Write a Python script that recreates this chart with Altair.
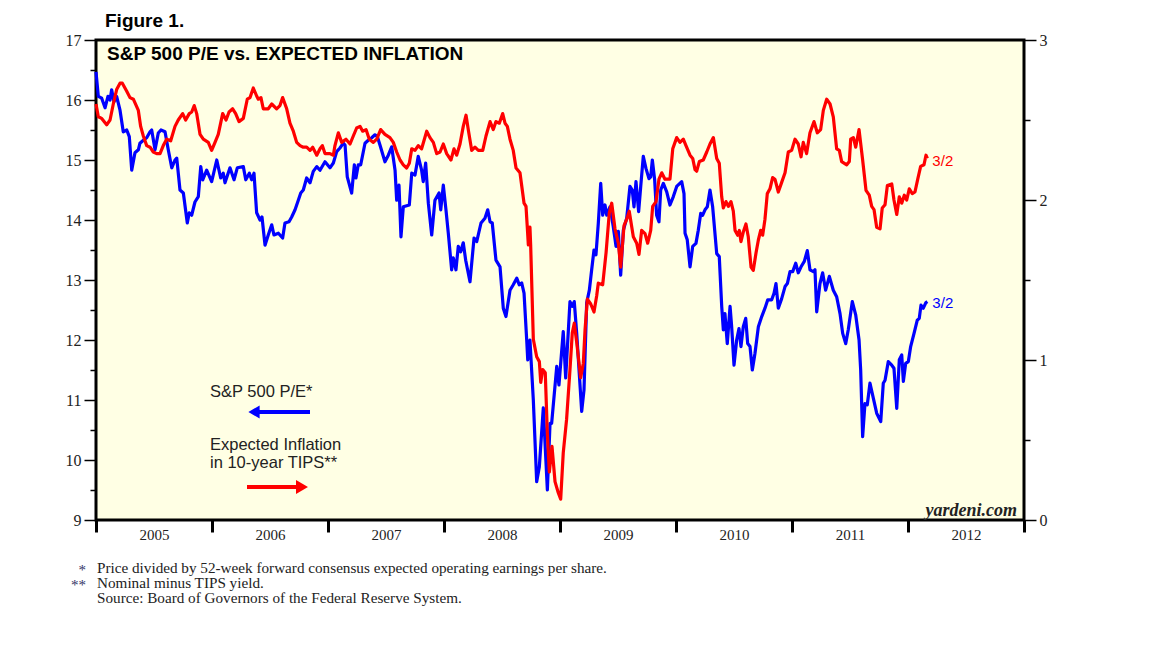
import altair as alt
import pandas as pd

# ---------------- data ----------------
# S&P 500 forward P/E (left axis), time in decimal years
pe_t = [
    2005.000, 2005.020, 2005.049, 2005.078, 2005.103, 2005.121, 2005.135, 2005.155, 2005.178, 2005.207,
    2005.235, 2005.265, 2005.287, 2005.308, 2005.336, 2005.365, 2005.379, 2005.408, 2005.437, 2005.466,
    2005.480, 2005.509, 2005.537, 2005.560, 2005.595, 2005.623, 2005.653, 2005.681, 2005.696, 2005.724,
    2005.753, 2005.787, 2005.804, 2005.825, 2005.853, 2005.882, 2005.903, 2005.920, 2005.954, 2005.997,
    2006.041, 2006.075, 2006.097, 2006.112, 2006.155, 2006.190, 2006.218, 2006.270, 2006.291, 2006.322,
    2006.342, 2006.362, 2006.385, 2006.414, 2006.431, 2006.457, 2006.485, 2006.515, 2006.534, 2006.572,
    2006.609, 2006.629, 2006.664, 2006.687, 2006.716, 2006.744, 2006.765, 2006.787, 2006.816, 2006.845,
    2006.873, 2006.903, 2006.931, 2006.974,
    2007.017, 2007.046, 2007.075, 2007.103, 2007.132, 2007.147, 2007.166, 2007.204, 2007.227, 2007.241,
    2007.261, 2007.282, 2007.319, 2007.347, 2007.377, 2007.405, 2007.425, 2007.448, 2007.491, 2007.520,
    2007.549, 2007.578, 2007.592, 2007.612, 2007.629, 2007.649, 2007.701, 2007.722, 2007.750, 2007.778,
    2007.807, 2007.821, 2007.842, 2007.865, 2007.894, 2007.922, 2007.957, 2007.972, 2007.994,
    2008.017, 2008.037, 2008.066, 2008.080, 2008.103, 2008.123, 2008.144, 2008.166, 2008.187, 2008.224,
    2008.259, 2008.282, 2008.319, 2008.353, 2008.377, 2008.397, 2008.416, 2008.448, 2008.483, 2008.511,
    2008.534, 2008.569, 2008.597, 2008.627, 2008.649, 2008.670, 2008.690, 2008.713, 2008.722, 2008.741,
    2008.770, 2008.799, 2008.822, 2008.856, 2008.891, 2008.914, 2008.928, 2008.972, 2008.991,
    2009.028, 2009.049, 2009.086, 2009.106, 2009.123, 2009.144, 2009.187, 2009.207, 2009.230, 2009.253,
    2009.273, 2009.293, 2009.310, 2009.330, 2009.351, 2009.368, 2009.388, 2009.403, 2009.431, 2009.459,
    2009.483, 2009.503, 2009.523, 2009.546, 2009.575, 2009.603, 2009.623, 2009.638, 2009.655, 2009.678,
    2009.696, 2009.718, 2009.741, 2009.767, 2009.782, 2009.796, 2009.816, 2009.833, 2009.853, 2009.868,
    2009.891, 2009.920, 2009.948, 2009.977,
    2010.006, 2010.049, 2010.069, 2010.078, 2010.097, 2010.121, 2010.144, 2010.172, 2010.192, 2010.213,
    2010.230, 2010.250, 2010.270, 2010.293, 2010.316, 2010.351, 2010.373, 2010.394, 2010.408, 2010.422,
    2010.442, 2010.466, 2010.480, 2010.500, 2010.523, 2010.543, 2010.560, 2010.580, 2010.601, 2010.618,
    2010.638, 2010.658, 2010.681, 2010.710, 2010.739, 2010.767, 2010.791, 2010.825, 2010.845, 2010.862,
    2010.882, 2010.911, 2010.940, 2010.960, 2010.983,
    2011.006, 2011.032, 2011.054, 2011.078, 2011.106, 2011.132, 2011.155, 2011.184, 2011.198, 2011.213,
    2011.241, 2011.264, 2011.290, 2011.322, 2011.356, 2011.385, 2011.414, 2011.437, 2011.463, 2011.485,
    2011.520, 2011.549, 2011.578, 2011.592, 2011.609, 2011.629, 2011.649, 2011.672, 2011.701, 2011.730,
    2011.765, 2011.787, 2011.802, 2011.830, 2011.860, 2011.879, 2011.903, 2011.925, 2011.946, 2011.960,
    2011.980,
    2012.003, 2012.023, 2012.052, 2012.080, 2012.097, 2012.112, 2012.132, 2012.153, 2012.167,
]
pe_v = [
    16.47, 16.06, 16.03, 15.87, 16.06, 16.00, 16.17, 15.97, 16.06, 15.83,
    15.47, 15.50, 15.39, 14.83, 15.12, 15.17, 15.28, 15.33, 15.37, 15.47,
    15.50, 15.17, 15.45, 15.50, 15.47, 15.17, 14.87, 15.00, 15.03, 14.50,
    14.45, 13.95, 14.12, 14.08, 14.30, 14.39, 14.89, 14.67, 14.83, 14.64,
    15.00, 14.70, 14.78, 14.62, 14.87, 14.67, 14.87, 14.89, 14.67, 14.78,
    14.67, 14.78, 14.12, 14.00, 14.05, 13.58, 13.75, 13.92, 13.75, 13.78,
    13.70, 13.95, 13.97, 14.05, 14.17, 14.33, 14.45, 14.50, 14.70, 14.62,
    14.81, 14.89, 14.83, 14.97,
    14.87, 14.95, 15.14, 15.20, 15.28, 15.25, 14.72, 14.45, 14.92, 14.70,
    14.92, 14.92, 15.28, 15.33, 15.37, 15.42, 15.39, 15.25, 14.97, 15.08,
    15.22, 14.83, 14.33, 14.58, 13.72, 14.22, 14.25, 14.78, 14.75, 15.06,
    14.83, 14.64, 14.95, 14.28, 13.75, 14.33, 14.45, 14.17, 14.58,
    14.17, 13.78, 13.17, 13.37, 13.17, 13.56, 13.47, 13.62, 13.33, 12.97,
    13.70, 13.64, 13.95, 14.03, 14.17, 13.97, 13.95, 13.33, 13.22, 12.53,
    12.39, 12.83, 12.92, 13.03, 12.92, 12.95, 12.78, 12.00, 11.67, 12.00,
    11.00, 9.64, 9.89, 10.87, 9.50, 10.61, 10.61, 11.56, 11.25,
    12.14, 11.37, 12.64, 12.56, 12.64, 12.11, 10.81, 11.17, 12.62, 12.83,
    13.17, 13.50, 13.42, 13.94, 14.61, 14.08, 14.25, 14.08, 14.22, 13.89,
    13.56, 13.81, 13.08, 13.83, 14.03, 14.56, 14.50, 14.22, 14.64, 14.14,
    14.56, 15.06, 14.86, 14.69, 14.72, 15.00, 14.67, 14.08, 13.97, 14.50,
    14.61, 14.47, 14.25, 14.39,
    14.56, 14.64, 14.44, 13.78, 13.67, 13.22, 13.56, 13.61, 13.83, 14.11,
    14.08, 14.17, 14.22, 14.50, 14.22, 13.44, 13.39, 12.56, 12.17, 12.44,
    11.94, 12.56, 12.22, 11.58, 12.00, 12.19, 11.89, 12.22, 12.36, 11.94,
    11.89, 11.50, 11.78, 12.22, 12.39, 12.53, 12.67, 12.67, 12.78, 12.94,
    12.53, 12.69, 12.89, 12.94, 13.14,
    13.14, 13.28, 13.12, 13.22, 13.31, 13.49, 13.17, 13.14, 13.17, 12.47,
    12.94, 13.12, 12.83, 13.06, 12.83, 12.72, 12.44, 12.11, 11.94, 12.17,
    12.64, 12.42, 12.00, 11.50, 10.39, 10.94, 10.92, 11.28, 11.03, 10.78,
    10.64, 11.28, 11.33, 11.64, 11.58, 11.53, 10.86, 11.67, 11.75, 11.31,
    11.61,
    11.64, 11.89, 12.11, 12.33, 12.36, 12.58, 12.53, 12.62, 12.64,
]

# Expected inflation in 10-year TIPS (right axis)
inf_t = [
    2005.000, 2005.020, 2005.049, 2005.092, 2005.121, 2005.149, 2005.178, 2005.207, 2005.227, 2005.265,
    2005.293, 2005.322, 2005.365, 2005.385, 2005.408, 2005.437, 2005.466, 2005.494, 2005.523, 2005.552,
    2005.580, 2005.609, 2005.644, 2005.681, 2005.709, 2005.747, 2005.773, 2005.804, 2005.825, 2005.847,
    2005.868, 2005.897, 2005.925, 2005.968, 2005.997,
    2006.026, 2006.054, 2006.092, 2006.121, 2006.147, 2006.178, 2006.204, 2006.233, 2006.270, 2006.304,
    2006.328, 2006.356, 2006.385, 2006.399, 2006.422, 2006.442, 2006.485, 2006.515, 2006.557, 2006.586,
    2006.609, 2006.644, 2006.672, 2006.701, 2006.730, 2006.759, 2006.787, 2006.816, 2006.845, 2006.868,
    2006.903, 2006.931, 2006.951, 2006.974,
    2007.017, 2007.046, 2007.060, 2007.089, 2007.118, 2007.155, 2007.190, 2007.218, 2007.247, 2007.276,
    2007.299, 2007.328, 2007.356, 2007.391, 2007.420, 2007.454, 2007.491, 2007.534, 2007.563, 2007.592,
    2007.621, 2007.649, 2007.678, 2007.701, 2007.722, 2007.750, 2007.778, 2007.807, 2007.851, 2007.879,
    2007.908, 2007.937, 2007.966, 2007.994,
    2008.023, 2008.060, 2008.086, 2008.109, 2008.138, 2008.166, 2008.190, 2008.209, 2008.239, 2008.267,
    2008.296, 2008.334, 2008.362, 2008.397, 2008.425, 2008.448, 2008.477, 2008.506, 2008.526, 2008.546,
    2008.569, 2008.597, 2008.621, 2008.655, 2008.690, 2008.707, 2008.718, 2008.727, 2008.741, 2008.747,
    2008.770, 2008.799, 2008.822, 2008.834, 2008.851, 2008.873, 2008.891, 2008.908, 2008.931, 2008.957,
    2008.985,
    2009.006, 2009.028, 2009.057, 2009.086, 2009.106, 2009.123, 2009.144, 2009.178, 2009.201, 2009.216,
    2009.236, 2009.265, 2009.293, 2009.316, 2009.330, 2009.368, 2009.397, 2009.425, 2009.446, 2009.474,
    2009.503, 2009.523, 2009.552, 2009.575, 2009.597, 2009.632, 2009.661, 2009.681, 2009.704, 2009.733,
    2009.756, 2009.782, 2009.799, 2009.828, 2009.853, 2009.877, 2009.905, 2009.948, 2009.972,
    2010.006, 2010.034, 2010.063, 2010.086, 2010.121, 2010.144, 2010.164, 2010.178, 2010.201, 2010.235,
    2010.265, 2010.293, 2010.322, 2010.351, 2010.373, 2010.394, 2010.408, 2010.431, 2010.451, 2010.474,
    2010.494, 2010.509, 2010.532, 2010.546, 2010.560, 2010.580, 2010.603, 2010.623, 2010.647, 2010.666,
    2010.690, 2010.710, 2010.730, 2010.747, 2010.767, 2010.787, 2010.810, 2010.833, 2010.853, 2010.882,
    2010.911, 2010.940, 2010.968, 2010.997,
    2011.026, 2011.054, 2011.078, 2011.097, 2011.126, 2011.155, 2011.190, 2011.218, 2011.247, 2011.270,
    2011.299, 2011.328, 2011.356, 2011.385, 2011.408, 2011.428, 2011.472, 2011.494, 2011.506, 2011.529,
    2011.549, 2011.578, 2011.609, 2011.638, 2011.666, 2011.687, 2011.707, 2011.730, 2011.759, 2011.778,
    2011.802, 2011.822, 2011.860, 2011.879, 2011.903, 2011.925, 2011.946, 2011.968, 2011.989,
    2012.011, 2012.037, 2012.060, 2012.084, 2012.109, 2012.138, 2012.155, 2012.167,
]
inf_v = [
    2.60, 2.52, 2.51, 2.47, 2.50, 2.60, 2.69, 2.73, 2.73, 2.68,
    2.64, 2.63, 2.56, 2.46, 2.40, 2.34, 2.33, 2.30, 2.29, 2.29,
    2.34, 2.38, 2.37, 2.46, 2.50, 2.54, 2.50, 2.54, 2.55, 2.59,
    2.54, 2.41, 2.38, 2.36, 2.31,
    2.36, 2.41, 2.54, 2.50, 2.55, 2.57, 2.54, 2.49, 2.51, 2.63,
    2.64, 2.70, 2.65, 2.63, 2.64, 2.57, 2.57, 2.60, 2.57, 2.59,
    2.64, 2.57, 2.48, 2.43, 2.36, 2.34, 2.33, 2.33, 2.31, 2.33,
    2.28, 2.32, 2.34, 2.29,
    2.29, 2.28, 2.34, 2.42, 2.36, 2.38, 2.35, 2.40, 2.45, 2.46,
    2.43, 2.44, 2.38, 2.36, 2.38, 2.44, 2.41, 2.39, 2.36, 2.30,
    2.25, 2.22, 2.20, 2.23, 2.32, 2.31, 2.34, 2.32, 2.43, 2.39,
    2.36, 2.29, 2.30, 2.35,
    2.29, 2.25, 2.32, 2.28, 2.35, 2.46, 2.53, 2.44, 2.31, 2.33,
    2.31, 2.31, 2.40, 2.49, 2.44, 2.49, 2.48, 2.54, 2.48, 2.46,
    2.38, 2.31, 2.20, 2.17, 1.98, 1.96, 1.83, 1.72, 1.83, 1.72,
    1.13, 1.02, 0.99, 0.86, 0.94, 0.92, 0.54, 0.30, 0.46, 0.24,
    0.17,
    0.13, 0.42, 0.63, 0.94, 1.17, 1.23, 1.11, 0.89, 0.98, 1.19,
    1.38, 1.35, 1.30, 1.40, 1.48, 1.47, 1.67, 1.92, 1.98, 1.82,
    1.73, 1.58, 1.84, 1.88, 1.93, 1.77, 1.73, 1.66, 1.81, 1.79,
    1.73, 1.81, 1.96, 1.99, 2.13, 2.17, 2.13, 2.13, 2.32,
    2.39, 2.36, 2.38, 2.34, 2.28, 2.26, 2.19, 2.18, 2.24, 2.25,
    2.30, 2.35, 2.39, 2.26, 2.23, 2.02, 1.95, 1.99, 1.96, 1.99,
    1.93, 1.81, 1.78, 1.81, 1.74, 1.80, 1.85, 1.77, 1.58, 1.56,
    1.67, 1.75, 1.81, 1.78, 1.88, 2.04, 2.07, 2.14, 2.13, 2.05,
    2.11, 2.17, 2.30, 2.31,
    2.38, 2.35, 2.27, 2.36, 2.29, 2.42, 2.49, 2.42, 2.44, 2.56,
    2.63, 2.60, 2.52, 2.32, 2.31, 2.24, 2.22, 2.24, 2.38, 2.39,
    2.33, 2.44, 2.25, 2.06, 2.03, 1.96, 1.94, 1.83, 1.82, 1.95,
    1.97, 2.09, 2.10, 2.00, 1.91, 2.02, 1.98, 2.03, 2.00,
    2.07, 2.04, 2.05, 2.13, 2.21, 2.22, 2.28, 2.26,
]

year_ticks = [2005, 2006, 2007, 2008, 2009, 2010, 2011, 2012, 2013]
pe_ticks = [9, 9.5, 10, 10.5, 11, 11.5, 12, 12.5, 13, 13.5, 14, 14.5, 15, 15.5, 16, 16.5, 17]
inf_ticks = [0, 0.5, 1, 1.5, 2, 2.5, 3]
last_label = "3/2"
footnote_marks = ["*", "**", ""]
footnote_texts = [
    "Price divided by 52-week forward consensus expected operating earnings per share.",
    "Nominal minus TIPS yield.",
    "Source: Board of Governors of the Federal Reserve System.",
]

pe_df = pd.DataFrame({"year": pe_t, "value": pe_v})
inf_df = pd.DataFrame({"year": inf_t, "value": inf_v})

W, H = 928, 480
SANS = "Liberation Sans"
SERIF = "Liberation Serif"
BLUE = "#0000FF"
RED = "#FF0000"
INK = "#222222"

x_enc = alt.X(
    "year:Q",
    scale=alt.Scale(domain=[2005, 2013], nice=False, zero=False),
    axis=alt.Axis(
        values=year_ticks, title=None, domain=False, grid=False,
        tickSize=12, tickWidth=3, tickColor="black",
        labelExpr="datum.value < 2013 ? format(datum.value, 'd') : ''",
        labelOffset=58, labelFlush=False, labelOverlap=False,
        labelPadding=-5, labelFont=SERIF, labelFontSize=15, labelColor=INK,
    ),
)

minor_tick = {"condition": {"test": "datum.value % 1 === 0", "value": 12}, "value": 6}

pe_axis = alt.Axis(
    values=pe_ticks, title=None, domain=False, grid=False, orient="left",
    tickSize=minor_tick, tickWidth=1.5, tickColor="black",
    labelExpr="datum.value % 1 === 0 ? format(datum.value, 'd') : ''",
    labelOverlap=False, labelPadding=3, labelFont=SERIF, labelFontSize=16,
    labelColor=INK, labelFlush=False,
)
inf_axis = alt.Axis(
    values=inf_ticks, title=None, domain=False, grid=False, orient="right",
    tickSize=minor_tick, tickWidth=1.5, tickColor="black",
    labelExpr="datum.value % 1 === 0 ? format(datum.value, 'd') : ''",
    labelOverlap=False, labelPadding=3, labelFont=SERIF, labelFontSize=16,
    labelColor=INK, labelFlush=False,
)

pe_base = alt.Chart(pe_df).encode(
    x=x_enc,
    y=alt.Y("value:Q", scale=alt.Scale(domain=[9, 17], nice=False, zero=False), axis=pe_axis),
)
pe_line = pe_base.mark_line(color=BLUE, strokeWidth=3.2, strokeJoin="round")
pe_lab = pe_base.transform_filter(f"datum.year >= {max(pe_t)}").mark_text(
    align="left", baseline="middle", dx=5, dy=1, font=SANS, fontSize=15, color=BLUE
).encode(text=alt.value(last_label))

inf_base = alt.Chart(inf_df).encode(
    x=x_enc,
    y=alt.Y("value:Q", scale=alt.Scale(domain=[0, 3], nice=False, zero=False), axis=inf_axis),
)
inf_line = inf_base.mark_line(color=RED, strokeWidth=3.2, strokeJoin="round")
inf_lab = inf_base.transform_filter(f"datum.year >= {max(inf_t)}").mark_text(
    align="left", baseline="middle", dx=5, dy=3, font=SANS, fontSize=15, color=RED
).encode(text=alt.value(last_label))

one = pd.DataFrame({"k": [0]})


def label(text, x, y, **kw):
    return alt.Chart(one).mark_text(baseline="alphabetic", **kw).encode(
        x=alt.value(x), y=alt.value(y), text=alt.value(text)
    )


fig_title = label("Figure 1.", 9, -13, align="left", font=SANS, fontSize=19, fontWeight="bold", color="black")
inner_title = label("S&P 500 P/E vs. EXPECTED INFLATION", 11, 20, align="left", font=SANS,
                    fontSize=19, fontWeight="bold", color="black")
leg1 = label("S&P 500 P/E*", 114, 357, align="left", font=SANS, fontSize=16.5, color=INK)
leg2 = label("Expected Inflation", 114, 410, align="left", font=SANS, fontSize=16.5, color=INK)
leg3 = label("in 10-year TIPS**", 114, 428, align="left", font=SANS, fontSize=16.5, color=INK)
brand = label("yardeni.com", 921, 476, align="right", font=SERIF, fontSize=18,
              fontWeight="bold", fontStyle="italic", color=INK)

notes = []
for i, (m, t) in enumerate(zip(footnote_marks, footnote_texts)):
    yb = 533 + 15 * i
    if m:
        notes.append(label(m, -10, yb + 2, align="right", font=SERIF, fontSize=15, color="#333366"))
    notes.append(label(t, 1, yb, align="left", font=SERIF, fontSize=15.2, color=INK))

# arrows
blue_shaft = alt.Chart(one).mark_rule(color=BLUE, strokeWidth=4).encode(
    x=alt.value(163), x2=alt.value(214), y=alt.value(372))
blue_head = alt.Chart(one).mark_point(shape="triangle-left", filled=True, opacity=1,
                                      color=BLUE, size=170).encode(x=alt.value(158), y=alt.value(372))
red_shaft = alt.Chart(one).mark_rule(color=RED, strokeWidth=4).encode(
    x=alt.value(151), x2=alt.value(200), y=alt.value(447))
red_head = alt.Chart(one).mark_point(shape="triangle-right", filled=True, opacity=1,
                                     color=RED, size=190).encode(x=alt.value(206), y=alt.value(447))

pe_group = alt.layer(pe_line, pe_lab, fig_title, inner_title, leg1, leg2, leg3, brand,
                     blue_shaft, blue_head, red_shaft, red_head, *notes)
inf_group = alt.layer(inf_line, inf_lab)

chart = (
    alt.layer(pe_group, inf_group)
    .resolve_scale(y="independent")
    .properties(
        width=W, height=H,
        autosize=alt.AutoSizeParams(type="none"),
        padding={"left": 96, "top": 40, "right": 128, "bottom": 128},
        background="white",
    )
    .configure_view(fill="#FFFFE4", stroke="black", strokeWidth=3)
)

chart.save("out.html", embed_options={"renderer": "svg", "actions": False})
